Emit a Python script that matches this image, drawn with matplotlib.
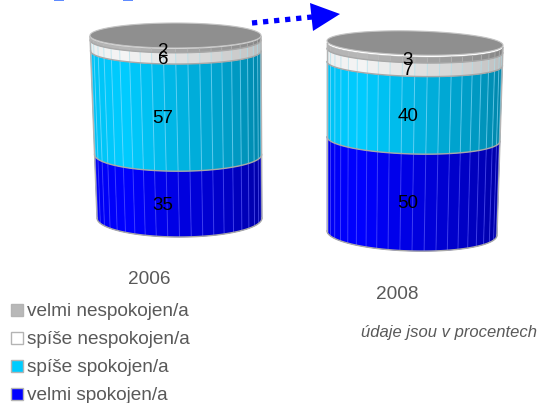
import numpy as np
import matplotlib
matplotlib.use("Agg")
import matplotlib.pyplot as plt
from matplotlib.collections import PolyCollection, LineCollection
from matplotlib.patches import Polygon, Rectangle

plt.rcParams['font.family'] = ['Liberation Sans', 'DejaVu Sans']

# ---- data ----
years = ['2006', '2008']
velmi_spokojen = [35, 50]
spise_spokojen = [57, 40]
spise_nespokojen = [6, 7]
velmi_nespokojen = [2, 3]
legend_labels = ['velmi nespokojen/a', 'spíše nespokojen/a', 'spíše spokojen/a', 'velmi spokojen/a']
note = 'údaje jsou v procentech'

# ---- style / layout (pixels) ----
series = [velmi_spokojen, spise_spokojen, spise_nespokojen, velmi_nespokojen]
hi_cols = [(0, 0, 1.0), (0, 0.80, 1.0), (0.96, 0.96, 0.96), (0.72, 0.72, 0.72)]
lo_cols = [(0, 0, 0.62), (0, 0.50, 0.64), (0.72, 0.72, 0.72), (0.50, 0.50, 0.50)]
line_cols = [(0.35, 0.35, 1.0), (0.55, 0.88, 1.0), (0.66, 0.88, 0.93), (0.72, 0.72, 0.72)]
legend_cols = ['#b8b8b8', '#ffffff', '#00ccff', '#0000ff']
geo = [
    dict(ybot=218, ytop=36.5, lt=90, rt=261, lb=97, rb=262, ryt=12.5, ryb=19, tilt=0, lift=1, lx=163, yx=149, yy=280),
    dict(ybot=233, ytop=45, lt=327, rt=503, lb=327, rb=497, ryt=12, ryb=18, tilt=2.2, lift=2, lx=408, yx=397, yy=294.5),
]
N = 22

fig = plt.figure(figsize=(5.39, 4.03), dpi=100)
ax = fig.add_axes([0, 0, 1, 1])
ax.set_xlim(0, 539)
ax.set_ylim(403, 0)
ax.axis('off')


def curve(g, y, th):
    t = (g['ybot'] - y) / (g['ybot'] - g['ytop'])
    l = g['lb'] + (g['lt'] - g['lb']) * t
    r = g['rb'] + (g['rt'] - g['rb']) * t
    ry = g['ryb'] + (g['ryt'] - g['ryb']) * t
    cx, rx = (l + r) / 2, (r - l) / 2
    return cx + rx * np.cos(th), y + g['tilt'] * np.cos(th) + ry * np.sin(th), ry


def shade(s, f):
    # brightest a quarter of the way across, darkening to the right
    w = np.clip((f - 0.28) / 0.72, 0, 1) if f > 0.28 else (0.28 - f) / 0.28 * 0.15
    return tuple(hi_cols[s][k] + (lo_cols[s][k] - hi_cols[s][k]) * w for k in range(3))


for i, g in enumerate(geo):
    vals = [sr[i] for sr in series]
    total = sum(vals)
    span = g['ybot'] - g['ytop']
    edges = g['ybot'] - np.cumsum([0] + vals) / total * span
    ths = np.linspace(np.pi, 0, N + 1)
    for s, v in enumerate(vals):
        y0, y1 = edges[s], edges[s + 1]
        polys, cols, lines = [], [], []
        for k in range(N):
            a = np.linspace(ths[k], ths[k + 1], 4)
            xb, yb, _ = curve(g, y0, a)
            xt, yt, _ = curve(g, y1, a)
            polys.append(np.r_[np.c_[xb, yb], np.c_[xt, yt][::-1]])
            cols.append(shade(s, k / (N - 1)))
            if k:
                lines.append([(xb[0], yb[0]), (xt[0], yt[0])])
        ax.add_collection(PolyCollection(polys, facecolors=cols, edgecolors=cols, linewidths=0.3, zorder=2 + s))
        ax.add_collection(LineCollection(lines, colors=[line_cols[s]], linewidths=0.7, alpha=0.6, zorder=2 + s + 0.1))
        # band's lower rim
        a = np.linspace(np.pi, 0, 80)
        xb, yb, _ = curve(g, y0, a)
        ax.plot(xb, yb, color='#a8a8a8', lw=1.0, zorder=2 + s + 0.2)
    # side edges
    for th in (np.pi, 0):
        ys = np.array([g['ybot'], g['ytop']])
        px = [curve(g, y, np.array([th]))[0][0] for y in ys]
        py = [curve(g, y, np.array([th]))[1][0] for y in ys]
        ax.plot(px, py, color='#b4b4b4', lw=1.0, zorder=7)
    # top surface
    a = np.linspace(0, 2 * np.pi, 160)
    xc, yc, _ = curve(g, edges[-1], a)
    ax.add_patch(Polygon(np.c_[xc, yc - g['lift']], closed=True, facecolor='#8f8f8f', edgecolor='#c4c4c4', lw=0.8, zorder=8))
    # value labels
    for s, v in enumerate(vals):
        mid = (edges[s] + edges[s + 1]) / 2
        _, _, ry = curve(g, mid, np.array([0.0]))
        ax.text(g['lx'], mid + ry + 1, str(v), fontsize=13.5, color='#000000', ha='center', va='center', zorder=10)
    ax.text(g['yx'], g['yy'], years[i], fontsize=13.7, color='#595959', ha='center', va='center')

# arrow
ax.plot([252, 312], [23, 17], color='#0000ff', lw=3.8, ls=(0, (1, 1.1)), zorder=9)
ax.add_patch(Polygon([(310, 3), (340, 14), (313, 31)], closed=True, facecolor='#0000ff', edgecolor='none', zorder=9))
# clipped remnants of a title at the top edge
for x0, x1 in [(54, 64), (123, 133)]:
    ax.add_patch(Rectangle((x0, -1), x1 - x0, 2, facecolor='#5f8bff', edgecolor='none'))

# legend
for lab, col, yc in zip(legend_labels, legend_cols, [310, 338, 366, 394]):
    ax.add_patch(Rectangle((11, yc - 6), 11.5, 12, facecolor=col, edgecolor='#b4b4b4', lw=1))
    ax.text(27, yc + 1, lab, fontsize=13.7, color='#595959', ha='left', va='center')

ax.text(537, 332, note, fontsize=12, style='italic', color='#595959', ha='right', va='center')

fig.savefig('out.png', dpi=100)
